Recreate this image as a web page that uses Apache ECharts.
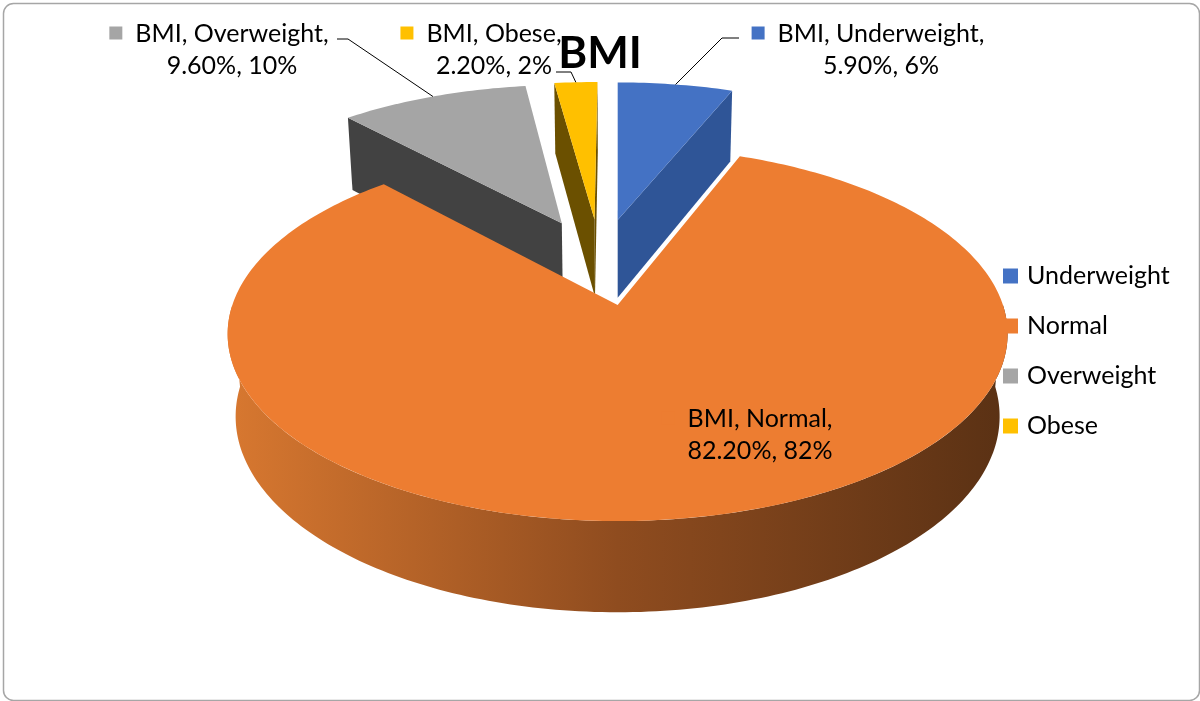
<!DOCTYPE html>
<html><head><meta charset="utf-8">
<script src="https://cdn.jsdelivr.net/npm/echarts@6/dist/echarts.min.js"></script>
<style>html,body{margin:0;padding:0;background:#fff}#c{width:1200px;height:701px}</style>
</head><body><div id="c"></div>
<script>
// ---- data ----
const seriesLabel = 'BMI';
const categories = ['Underweight', 'Normal', 'Overweight', 'Obese'];
const values = [5.9, 82.2, 9.6, 2.2];

// ---- styles ----
const topColors = ['#4472C4', '#ED7D31', '#A5A5A5', '#FFC000'];
const sideColors = ['#2F5597', '#8B4A1E', '#424242', '#6B5000'];
const wallStops = [
  ['#3A65B0', '#2F5597'],
  ['#D87830', '#5A3114'],
  ['#8A8A8A', '#424242'],
  ['#D9A300', '#6B5000']
];
const FONT = 'Lato';
const LABEL_SIZE = 25, LABEL_LH = 32;

// ---- layout (3D projection of the pie) ----
const CX = 618, CY = 305, F = 2200, DIST = 5.71, SINE = 0.474, COSE = 0.880;
const DEPTH = 0.246, EXPLODE = 0.255;
const ORIGIN = [-0.048, 0.250];
// label anchors: [centre x of text lines, top of first line]
const LABEL_POS = [[881, 18], [760, 403], [232, 18], [494, 18]];
const LEADER_POS = [[[739, 38], [722, 38]], null, [[337, 39], [348, 39]], [[556, 72], [571, 72]]];

const total = values.reduce((a, b) => a + b, 0);
const starts = [];
let acc = 0;
values.forEach(v => { starts.push(acc); acc += v; });

const measureCtx = document.createElement('canvas').getContext('2d');
function textWidth(t) {
  measureCtx.font = LABEL_SIZE + 'px ' + FONT;
  return measureCtx.measureText(t).width;
}

function proj(u, v, h) {
  const z = DIST + v * COSE - h * SINE;
  return [CX + F * u / z, CY - F * (v * SINE + h * COSE) / z];
}

function renderSlice(i) {
  return function (params, api) {
    const s = api.value(0), val = api.value(1);
    const a0 = s / total * 2 * Math.PI, a1 = (s + val) / total * 2 * Math.PI, am = (a0 + a1) / 2;
    const ou = ORIGIN[0] + EXPLODE * Math.sin(am), ov = ORIGIN[1] + EXPLODE * Math.cos(am);
    const arc = (b0, b1, h) => {
      const n = Math.max(2, Math.ceil((b1 - b0) / (Math.PI / 180)));
      const pts = [];
      for (let k = 0; k <= n; k++) {
        const t = b0 + (b1 - b0) * k / n;
        pts.push(proj(ou + Math.sin(t), ov + Math.cos(t), h));
      }
      return pts;
    };
    const children = [];
    children.push({ type: 'polygon', shape: { points: [proj(ou, ov, 0)].concat(arc(a0, a1, 0)) },
      style: { fill: topColors[i] }, z2: 10 });
    const w0 = Math.max(a0, Math.PI / 2), w1 = Math.min(a1, 1.5 * Math.PI);
    if (w1 > w0) {
      const t = arc(w0, w1, 0), b = arc(w0, w1, -DEPTH).reverse();
      children.push({ type: 'polygon', shape: { points: t.concat(b) },
        style: { fill: new echarts.graphic.LinearGradient(0, 0, 1, 0, [
          { offset: 0, color: wallStops[i][0] }, { offset: 0.5, color: '#8F4C1F' }, { offset: 1, color: wallStops[i][1] }]) },
        z2: 2 });
    }
    const camV = DIST * COSE;
    [[a0, -1], [a1, 1]].forEach(([a, sg]) => {
      const nu = sg * Math.cos(a), nv = -sg * Math.sin(a);
      if (ou * nu + (ov + camV) * nv < 0) {
        const eu = ou + Math.sin(a), ev = ov + Math.cos(a);
        children.push({ type: 'polygon', shape: { points: [proj(ou, ov, 0), proj(eu, ev, 0), proj(eu, ev, -DEPTH), proj(ou, ov, -DEPTH)] },
          style: { fill: sideColors[i] }, z2: 1 });
      }
    });
    const pct = Math.round(val / total * 100);
    const line1 = seriesLabel + ', ' + categories[i] + ',';
    const line2 = val.toFixed(2) + '%, ' + pct + '%';
    const lp = LABEL_POS[i];
    children.push({ type: 'text', x: lp[0], y: lp[1], z2: 30,
      style: { text: line1 + '\n' + line2, align: 'center', verticalAlign: 'top',
        fontSize: LABEL_SIZE, fontFamily: FONT, lineHeight: LABEL_LH, fill: '#000' } });
    const w = textWidth(line1);
    children.push({ type: 'rect', z2: 30,
      shape: { x: lp[0] - w / 2 - 13 - 13, y: lp[1] + LABEL_LH / 2 - 7.5, width: 13, height: 13 },
      style: { fill: topColors[i] } });
    if (LEADER_POS[i]) {
      const end = proj(ou + Math.sin(am), ov + Math.cos(am), 0);
      children.push({ type: 'polyline', shape: { points: LEADER_POS[i].concat([end]) },
        style: { stroke: '#000', lineWidth: 1, fill: null }, z2: 25 });
    }
    return { type: 'group', children };
  };
}

const chart = echarts.init(document.getElementById('c'), null, { renderer: 'canvas' });
chart.setOption({
  animation: false,
  color: topColors,
  title: { text: seriesLabel, left: 'center', top: 27,
    textStyle: { fontSize: 44, fontWeight: 'bold', fontFamily: FONT, color: '#000' } },
  legend: { orient: 'vertical', left: 998, top: 258, itemWidth: 15, itemHeight: 15, itemGap: 24, icon: 'rect',
    selectedMode: false, data: categories,
    textStyle: { fontSize: 25, fontFamily: FONT, color: '#000', lineHeight: 26, padding: [0, 0, 0, 4] } },
  graphic: [{ type: 'rect', left: 1, top: 1, shape: { width: 1196, height: 697, r: 10 },
    style: { fill: 'none', stroke: '#A6A6A6', lineWidth: 1.5 }, silent: true }],
  series: categories.map((name, i) => ({
    type: 'custom', name, coordinateSystem: 'none', silent: true,
    itemStyle: { color: topColors[i] },
    renderItem: renderSlice(i),
    data: [[starts[i], values[i]]]
  }))
});
</script></body></html>
